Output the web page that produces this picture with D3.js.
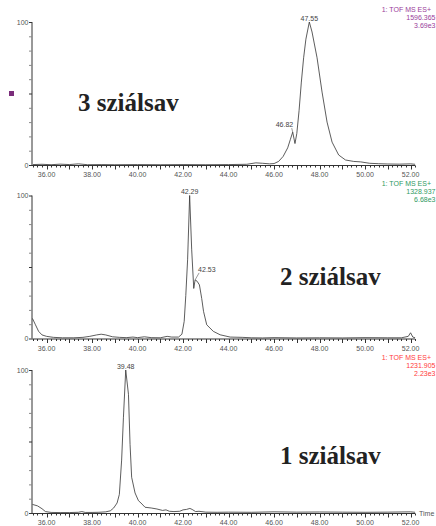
<!DOCTYPE html>
<html>
<head>
<meta charset="utf-8">
<script src="https://cdn.jsdelivr.net/npm/d3@7"></script>
<style>
  html, body { margin: 0; padding: 0; background: #fff; }
  svg { display: block; }
  text { font-family: "Liberation Sans", Arial, sans-serif; }
  text.title { font-family: "Liberation Serif", "Times New Roman", serif; font-weight: bold; }
</style>
</head>
<body>
<svg id="chart" width="436" height="526"></svg>
<script>
// Retention time axis (minutes)
const timeDomain = [35.36, 52.2];
const timeTickLabels = [36, 38, 40, 42, 44, 46, 48, 50, 52];
const intensityTickLabels = [0, 100];

// Titles and channel info per trace, top to bottom
const panelTitles = ["3 sziálsav", "2 sziálsav", "1 sziálsav"];
const channelNames = ["1: TOF MS ES+", "1: TOF MS ES+", "1: TOF MS ES+"];
const channelMasses = ["1596.365", "1328.937", "1231.905"];
const channelMaxima = ["3.69e3", "6.68e3", "2.23e3"];
const channelColors = ["#9a3c9a", "#2f9a62", "#ff3b3b"];

// Extracted ion chromatogram, tri-sialylated (relative intensity %)
const tri_time = [35.4, 35.8, 36.2, 36.6, 37.0, 37.4, 37.8, 38.4, 39.0, 40.0, 41.0, 42.0, 43.0, 44.0,
  44.8, 45.2, 45.5, 45.8, 46.0, 46.2, 46.4, 46.6, 46.72, 46.82, 46.92, 47.0, 47.1, 47.2, 47.3, 47.4,
  47.55, 47.67, 47.89, 48.11, 48.33, 48.55, 48.84, 49.14, 49.5, 49.8, 50.2, 50.6, 51.0, 51.5, 52.0, 52.2];
const tri_int = [0.3, 0.5, 0.2, 0.6, 0.3, 0.8, 0.2, 0.3, 0.2, 0.3, 0.2, 0.3, 0.2, 0.3,
  0.5, 1.5, 1.2, 0.8, 1.0, 2.5, 6, 12, 18, 23, 15, 22, 38, 58, 75, 88,
  100, 93, 75, 51, 30, 16, 7, 3.5, 2.5, 2.2, 1.2, 0.9, 0.7, 0.6, 0.8, 0.5];
const tri_peaks = [47.55, 46.82];

// Extracted ion chromatogram, di-sialylated
const di_time = [35.38, 35.5, 35.65, 35.8, 36.0, 36.3, 36.7, 37.2, 37.6, 37.9, 38.2, 38.4, 38.6, 38.9,
  39.2, 39.5, 39.8, 40.0, 40.3, 40.6, 41.0, 41.3, 41.5, 41.8, 41.95, 42.05, 42.12, 42.2, 42.29, 42.38,
  42.47, 42.53, 42.62, 42.72, 42.82, 42.9, 43.04, 43.33, 43.63, 44.07, 44.6, 45.0, 45.5, 46.0, 47.0,
  48.0, 49.0, 50.0, 51.0, 51.6, 51.9, 52.0, 52.1, 52.2];
const di_int = [14, 10, 5, 2.5, 1.5, 0.8, 0.5, 0.5, 0.8, 1.5, 2.5, 3.0, 2.5, 1.2,
  0.8, 0.6, 1.0, 0.6, 1.2, 0.6, 0.5, 1.5, 1.0, 1.0, 3, 12, 30, 55, 100, 62,
  35, 41, 40, 37.5, 28, 19, 9.6, 5, 2.6, 1.0, 0.8, 0.5, 0.4, 0.6, 0.4,
  0.5, 0.4, 0.6, 0.5, 0.5, 1.5, 4, 1, 0.5];
const di_peaks = [42.29, 42.53];

// Extracted ion chromatogram, mono-sialylated
const mono_time = [35.38, 35.6, 35.8, 35.95, 36.2, 36.6, 37.0, 37.4, 37.55, 37.7, 38.0, 38.3, 38.6, 38.8,
  38.95, 39.1, 39.2, 39.3, 39.38, 39.48, 39.6, 39.67, 39.74, 39.89, 40.04, 40.15, 40.33, 40.6, 40.85,
  41.1, 41.25, 41.4, 41.6, 41.85, 42.0, 42.15, 42.3, 42.4, 42.55, 42.7, 43.0, 43.5, 44.0, 45.0, 46.0,
  47.0, 48.0, 49.0, 50.0, 51.0, 52.0, 52.2];
const mono_int = [6, 5, 3, 1, 0.4, 0.3, 0.3, 0.5, 1.0, 0.4, 0.4, 0.5, 0.8, 1.5,
  3.5, 7, 13, 37, 67, 100, 83, 48, 25, 14, 8.6, 7, 4, 3.5, 2.8,
  1.8, 2.2, 1.2, 1.0, 1.2, 2.2, 2.5, 3.2, 2.5, 1.0, 1.2, 0.6, 0.5, 0.6, 0.5, 0.8,
  0.6, 0.7, 0.6, 0.5, 0.6, 0.8, 0.5];
const mono_peaks = [39.48];

const series = [
  { time: tri_time, intensity: tri_int, peaks: tri_peaks },
  { time: di_time, intensity: di_int, peaks: di_peaks },
  { time: mono_time, intensity: mono_int, peaks: mono_peaks }
];

// Layout
const svg = d3.select("#chart");
const axisColor = "#333";
const labelColor = "#555";
const plotTop = [22, 195.5, 370];
const plotH = 143;
const x = d3.scaleLinear().domain(timeDomain).range([32, 415.1]);

// Secondary-peak label offsets (label anchored relative to the peak point)
const leaderStyles = [
  { anchor: "end", dx: 0.5, dy: -5, lx: -1, ly: -4 },
  { anchor: "start", dx: 3, dy: -8, lx: 4, ly: -7 }
];

series.forEach((s, i) => {
  const top = plotTop[i];
  const y = d3.scaleLinear().domain([0, 100]).range([top + plotH, top]);
  const g = svg.append("g");

  // Y axis: spine with ticks every 10 %
  g.append("line")
    .attr("x1", x.range()[0]).attr("x2", x.range()[0])
    .attr("y1", y(0)).attr("y2", y(100))
    .attr("stroke", axisColor).attr("stroke-width", 1);
  g.selectAll(".yt").data(d3.range(0, 101, 10)).join("line")
    .attr("x1", x.range()[0] - 3).attr("x2", x.range()[0])
    .attr("y1", d => y(d) + 0.5).attr("y2", d => y(d) + 0.5)
    .attr("stroke", d => (d % 50 === 0 ? axisColor : "#888"))
    .attr("stroke-width", 1);
  g.selectAll(".yl").data(intensityTickLabels).join("text")
    .attr("x", x.range()[0] - 3.5).attr("y", d => y(d) + 2.5)
    .attr("text-anchor", "end").attr("font-size", 7).attr("fill", labelColor)
    .text(d => d);

  // X axis: spine, minor ticks every 0.2 min, major every 1 min
  const axisY = y(0) + 0.5;
  g.append("line")
    .attr("x1", x.range()[0]).attr("x2", x.range()[1])
    .attr("y1", axisY).attr("y2", axisY)
    .attr("stroke", axisColor).attr("stroke-width", 1);
  const minor = d3.range(35.4, 52.21, 0.2).map(v => +v.toFixed(1));
  g.selectAll(".xm").data(minor).join("line")
    .attr("x1", d => Math.round(x(d)) + 0.5).attr("x2", d => Math.round(x(d)) + 0.5)
    .attr("y1", axisY).attr("y2", d => axisY + (Math.abs(d - Math.round(d)) < 1e-6 ? 4 : 2))
    .attr("stroke", axisColor).attr("stroke-width", 1);
  g.selectAll(".xl").data(timeTickLabels).join("text")
    .attr("x", d => x(d)).attr("y", y(0) + 12)
    .attr("text-anchor", "middle").attr("font-size", 7).attr("fill", labelColor)
    .text(d => d.toFixed(2));

  // Trace
  const pts = s.time.map((t, k) => [t, s.intensity[k]]);
  g.append("path")
    .datum(pts)
    .attr("d", d3.line().x(d => x(d[0])).y(d => y(d[1])).curve(d3.curveLinear))
    .attr("fill", "none").attr("stroke", "#333").attr("stroke-width", 0.8)
    .attr("stroke-linejoin", "round");

  // Peak annotations
  s.peaks.forEach((pt, k) => {
    const idx = s.time.indexOf(pt);
    const px = x(pt), py = y(s.intensity[idx]);
    if (k === 0) {
      g.append("text")
        .attr("x", px).attr("y", py - 1.5)
        .attr("text-anchor", "middle").attr("font-size", 7).attr("fill", "#444")
        .text(pt.toFixed(2));
    } else {
      const st = leaderStyles[i];
      g.append("line")
        .attr("x1", px).attr("y1", py)
        .attr("x2", px + st.lx).attr("y2", py + st.ly)
        .attr("stroke", "#555").attr("stroke-width", 0.6);
      g.append("text")
        .attr("x", px + st.dx).attr("y", py + st.dy)
        .attr("text-anchor", st.anchor).attr("font-size", 7).attr("fill", "#444")
        .text(pt.toFixed(2));
    }
  });

  // Channel information (top right)
  const info = [channelNames[i], channelMasses[i], channelMaxima[i]];
  const infoX = [431, 435.5, 435.5];
  const infoDy = [-10, -2, 6];
  info.forEach((txt, k) => {
    g.append("text")
      .attr("x", infoX[k]).attr("y", top + infoDy[k])
      .attr("text-anchor", "end").attr("font-size", 7).attr("fill", channelColors[i])
      .text(txt);
  });

  // Panel title
  const titlePos = [[78, 111], [280, 284.5], [280, 463.5]];
  g.append("text")
    .attr("class", "title")
    .attr("x", titlePos[i][0]).attr("y", titlePos[i][1])
    .attr("font-size", 25).attr("fill", "#222")
    .text(panelTitles[i]);
});

// Axis title on the bottom trace
svg.append("text")
  .attr("x", 419).attr("y", plotTop[2] + plotH + 3)
  .attr("font-size", 7).attr("fill", labelColor)
  .text("Time");

// Small colour marker on the left of the first trace
svg.append("rect")
  .attr("x", 9).attr("y", 91).attr("width", 5).attr("height", 5)
  .attr("fill", "#7b2d7b");
</script>
</body>
</html>
